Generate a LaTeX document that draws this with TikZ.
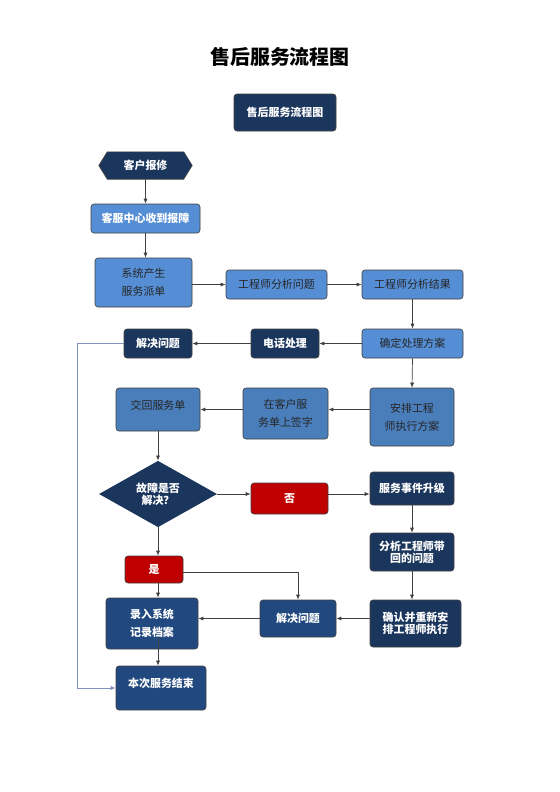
\documentclass[tikz,border=0pt]{standalone}
\usepackage{fontspec}
\setmainfont{Noto Sans CJK SC}
\usetikzlibrary{shapes.geometric,arrows.meta}
\definecolor{navy}{HTML}{1B365D}
\definecolor{midnavy}{HTML}{22497F}
\definecolor{lightblue}{HTML}{558ED5}
\definecolor{midblue}{HTML}{4A7EBB}
\definecolor{redbox}{HTML}{C00000}
\definecolor{linkgray}{HTML}{404040}
\definecolor{sideline}{HTML}{7F93BD}
\definecolor{sidearrow}{HTML}{1F3A7A}
\tikzset{
  basebox/.style={rectangle, rounded corners=3bp, draw=black!75, line width=0.6bp, inner sep=0pt, align=center, font=\fontsize{11}{18}\selectfont},
  darkbox/.style={basebox, fill=navy, text=white, font=\fontsize{11}{18}\selectfont\bfseries},
  mnbox/.style={basebox, fill=midnavy, text=white, font=\fontsize{11}{18}\selectfont\bfseries},
  lbbox/.style={basebox, fill=lightblue, text=black!85},
  lbwbox/.style={basebox, fill=lightblue, text=white, font=\fontsize{11}{18}\selectfont\bfseries},
  mbbox/.style={basebox, fill=midblue, text=black!85},
  redbx/.style={basebox, fill=redbox, text=white, font=\fontsize{11}{18}\selectfont\bfseries},
  tight/.style={font=\fontsize{11}{12}\selectfont\bfseries},
  liftup/.style={text depth=#1},
  link/.style={draw=linkgray, line width=0.7bp, -{Latex[length=5bp,width=4bp]}},
}
\begin{document}
\begin{tikzpicture}[x=1bp,y=-1bp]
\useasboundingbox[fill=white] (0,0) rectangle (560,792);
\node[font=\fontsize{20}{24}\selectfont\bfseries] (title) at (280,57) {售后服务流程图};
\node[darkbox, minimum width=102bp, minimum height=37bp] (top) at (285,112.5) {售后服务流程图};
% hexagon
\node[minimum width=93bp, minimum height=27bp, inner sep=0pt] (hex) at (145.5,165.5) {};
\fill[navy, draw=black!75, line width=0.6bp] (hex.west) -- ([xshift=8.5bp]hex.north west) -- ([xshift=-8.5bp]hex.north east) -- (hex.east) -- ([xshift=-8.5bp]hex.south east) -- ([xshift=8.5bp]hex.south west) -- cycle;
\node[text=white, font=\fontsize{11}{18}\selectfont\bfseries] (hexlabel) at (hex) {客户报修};
\node[lbwbox, minimum width=109bp, minimum height=29bp] (kefu) at (145.5,218.5) {客服中心收到报障};
\node[lbbox, minimum width=97bp, minimum height=49bp] (xitong) at (143.5,282.5) {系统产生\\服务派单};
\node[lbbox, minimum width=101bp, minimum height=29bp] (fx1) at (276.5,284.5) {工程师分析问题};
\node[lbbox, minimum width=101bp, minimum height=29bp] (fx2) at (412.5,284.5) {工程师分析结果};
\node[lbbox, minimum width=101bp, minimum height=29bp] (queding) at (412.5,343.5) {确定处理方案};
\node[darkbox, minimum width=68bp, minimum height=29bp] (dianhua) at (285,343.5) {电话处理};
\node[darkbox, minimum width=68bp, minimum height=29bp] (jj1) at (158,343.5) {解决问题};
\node[mbbox, minimum width=84bp, minimum height=58bp] (anpai) at (412,417) {安排工程\\师执行方案};
\node[mbbox, minimum width=85bp, minimum height=51bp] (qianzi) at (285.5,413.5) {在客户服\\务单上签字};
\node[mbbox, minimum width=84bp, minimum height=43bp, liftup=10bp] (jiaohui) at (158,409.5) {交回服务单};
\node[diamond, fill=navy, draw=none, minimum width=118bp, minimum height=66bp, inner sep=0pt, text=white, align=center, tight] (dia) at (158,494) {故障是否\\解决？};
\node[redbx, minimum width=77bp, minimum height=31bp] (fou) at (289.5,498.5) {否};
\node[darkbox, minimum width=84bp, minimum height=33bp] (shengji) at (412,488.5) {服务事件升级};
\node[darkbox, tight, minimum width=84bp, minimum height=38bp] (daihui) at (412,552) {分析工程师带\\回的问题};
\node[darkbox, tight, minimum width=91bp, minimum height=47bp] (queren) at (415.5,623.5) {确认并重新安\\排工程师执行};
\node[mnbox, minimum width=76bp, minimum height=37bp] (jj2) at (298,618.5) {解决问题};
\node[redbx, minimum width=58bp, minimum height=27bp] (shi) at (154,569.5) {是};
\node[mnbox, minimum width=92bp, minimum height=51bp] (luru) at (152,623.5) {录入系统\\记录档案};
\node[mnbox, minimum width=90bp, minimum height=44bp, liftup=11bp] (benci) at (161,688) {本次服务结束};
% connectors
\draw[link] (hex.south) -- (kefu.north);
\draw[link] (kefu.south) -- (kefu.south |- xitong.north);
\draw[link] (fx1.west -| xitong.east) -- (fx1.west);
\draw[link] (fx1.east) -- (fx2.west);
\draw[link] (fx2.south) -- (queding.north);
\draw[link] (queding.west) -- (dianhua.east);
\draw[link] (dianhua.west) -- (jj1.east);
\coordinate (sidetop) at (77,343.5);
\coordinate (sidebot) at (77,688);
\draw[draw=sideline, line width=0.8bp, -{Latex[length=5bp,width=4bp,fill=sidearrow]}] (jj1.west) -- (sidetop) -- (sidebot) -- (benci.west);
\draw[link] (queding.south) -- (anpai.north);
\draw[link] (anpai.west |- jiaohui) -- (qianzi.east |- jiaohui);
\draw[link] (qianzi.west |- jiaohui) -- (jiaohui.east);
\draw[link] (jiaohui.south) -- (dia.north);
\draw[link] (dia.east) -- (fou.west |- dia.east);
\draw[link] (fou.east |- dia.east) -- (shengji.west |- dia.east);
\draw[link] (shengji.south) -- (daihui.north);
\draw[link] (daihui.south) -- (daihui.south |- queren.north);
\draw[link] (queren.west |- jj2) -- (jj2.east);
\draw[link] (jj2.west) -- (jj2.west -| luru.east);
\draw[link] (dia.south) -- (dia.south |- shi.north);
\draw[link] ([yshift=-2.5bp]shi.east) -| (jj2.north);
\draw[link] (dia.south |- shi.south) -- (dia.south |- luru.north);
\path (luru.south -| dia.south) ++(0,-11) coordinate (lurustart);
\draw[link] (lurustart) -- (lurustart |- benci.north);
\end{tikzpicture}
\end{document}
